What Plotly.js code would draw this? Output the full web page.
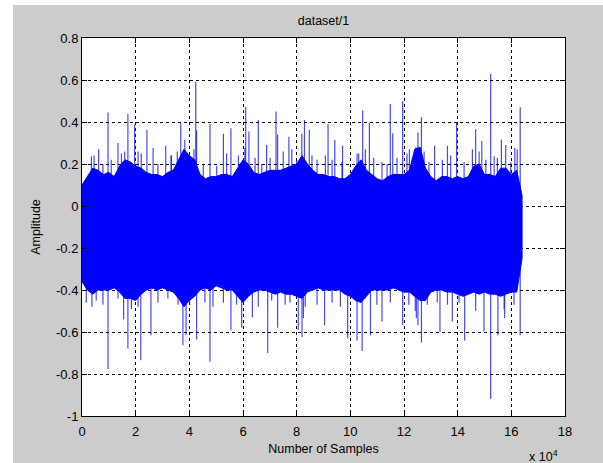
<!DOCTYPE html>
<html>
<head>
<meta charset="utf-8">
<script src="https://cdn.plot.ly/plotly-3.0.1.min.js"></script>
<style>
  html, body { margin: 0; padding: 0; background: #ffffff; width: 603px; height: 463px; overflow: hidden; }
  #chart { position: absolute; left: 13px; top: 5px; width: 590px; height: 458px; }
</style>
</head>
<body>
<div id="chart"></div>
<script>
// Ragged dense envelope of the signal (sample index, upper and lower edge)
const envX = [0,2000,4000,6000,8000,10000,12000,14000,16000,18000,20000,22000,24000,26000,28000,30000,32000,34000,36000,38000,40000,42000,44000,46000,48000,50000,52000,54000,56000,58000,60000,62000,64000,66000,68000,70000,72000,74000,76000,78000,80000,82000,84000,86000,88000,90000,92000,94000,96000,98000,100000,102000,104000,106000,108000,110000,112000,114000,116000,118000,120000,122000,124000,126000,128000,130000,132000,134000,136000,138000,140000,142000,144000,146000,148000,150000,152000,154000,156000,158000,160000,162000,164000];
const envTop = [0.10,0.14,0.18,0.17,0.15,0.16,0.14,0.19,0.22,0.21,0.19,0.18,0.16,0.15,0.15,0.14,0.16,0.17,0.22,0.27,0.24,0.22,0.15,0.13,0.14,0.14,0.15,0.15,0.14,0.18,0.22,0.20,0.16,0.15,0.16,0.17,0.17,0.17,0.18,0.19,0.20,0.24,0.20,0.17,0.15,0.15,0.14,0.14,0.13,0.13,0.15,0.19,0.22,0.17,0.15,0.13,0.12,0.14,0.15,0.15,0.15,0.17,0.27,0.28,0.18,0.14,0.12,0.14,0.14,0.13,0.14,0.13,0.14,0.19,0.20,0.15,0.15,0.14,0.18,0.18,0.15,0.17,0.05];
const envBottom = [-0.36,-0.40,-0.42,-0.40,-0.40,-0.40,-0.39,-0.41,-0.44,-0.44,-0.45,-0.42,-0.40,-0.39,-0.40,-0.39,-0.40,-0.41,-0.44,-0.48,-0.45,-0.43,-0.40,-0.39,-0.40,-0.38,-0.39,-0.40,-0.40,-0.43,-0.46,-0.43,-0.41,-0.40,-0.40,-0.41,-0.42,-0.41,-0.42,-0.42,-0.43,-0.44,-0.41,-0.40,-0.39,-0.40,-0.40,-0.40,-0.40,-0.42,-0.43,-0.45,-0.46,-0.43,-0.40,-0.40,-0.40,-0.40,-0.39,-0.40,-0.41,-0.41,-0.43,-0.45,-0.45,-0.41,-0.40,-0.40,-0.41,-0.41,-0.42,-0.43,-0.42,-0.41,-0.42,-0.41,-0.42,-0.42,-0.43,-0.42,-0.41,-0.41,-0.25];

// Upward spikes (sample index, peak amplitude)
const spikeUpX = [3500,4500,6200,7800,9700,10900,13400,14700,15900,17100,19600,20900,22100,24200,26500,28300,31200,33200,33300,35500,36800,38300,39500,41700,42400,42700,45200,47700,50200,52700,53900,55500,58300,60700,61000,62200,64500,65700,67000,68800,70100,72300,72900,75000,77100,78200,80000,81900,82900,84700,85700,87600,90700,91700,93200,94200,96900,97100,102500,103100,104600,105600,107100,108700,111800,113700,114900,115800,117400,119500,121100,122000,123600,124400,125200,126500,127500,129300,131400,134300,136200,137400,139600,142400,145500,146700,148000,149000,150500,152300,153600,154800,156300,157900,159800,161300,162200,163300];
const spikeUpY = [0.237,0.24,0.27,0.20,0.445,0.22,0.30,0.25,0.26,0.439,0.387,0.26,0.25,0.363,0.276,0.20,0.287,0.24,0.24,0.26,0.398,0.316,0.20,0.27,0.592,0.36,0.20,0.39,0.19,0.344,0.25,0.37,0.24,0.276,0.47,0.355,0.23,0.41,0.20,0.29,0.23,0.45,0.34,0.26,0.33,0.27,0.22,0.344,0.41,0.363,0.24,0.22,0.24,0.39,0.22,0.316,0.21,0.287,0.25,0.25,0.455,0.27,0.395,0.23,0.21,0.20,0.486,0.347,0.23,0.50,0.25,0.27,0.22,0.28,0.35,0.423,0.26,0.21,0.287,0.22,0.287,0.24,0.40,0.21,0.27,0.366,0.26,0.31,0.22,0.628,0.237,0.23,0.316,0.29,0.21,0.276,0.27,0.47];

// Downward spikes (sample index, trough amplitude)
const spikeDownX = [1600,3700,5300,7800,9700,13400,15500,17100,18400,20900,21900,25700,28300,32000,35800,37600,38800,40100,42700,45800,47700,48800,52700,55500,57600,59500,63500,65700,69200,70700,72900,75700,77500,80600,82000,82500,83200,87600,90400,93200,96300,99000,102500,104400,107500,109900,111800,114900,119500,121800,124200,124600,125200,126500,128700,132400,133400,136200,138000,140500,142600,146700,149800,152300,155000,157300,157500,161000,163300];
const spikeDownY = [-0.46,-0.48,-0.45,-0.47,-0.777,-0.44,-0.54,-0.679,-0.49,-0.48,-0.734,-0.616,-0.46,-0.44,-0.47,-0.663,-0.616,-0.47,-0.636,-0.46,-0.742,-0.48,-0.46,-0.59,-0.47,-0.58,-0.53,-0.48,-0.70,-0.45,-0.58,-0.47,-0.46,-0.59,-0.624,-0.535,-0.48,-0.47,-0.568,-0.46,-0.48,-0.63,-0.64,-0.69,-0.616,-0.47,-0.55,-0.46,-0.568,-0.47,-0.50,-0.535,-0.568,-0.65,-0.47,-0.46,-0.60,-0.47,-0.55,-0.46,-0.64,-0.50,-0.597,-0.919,-0.616,-0.49,-0.535,-0.47,-0.616];

const xTickVals = [0,20000,40000,60000,80000,100000,120000,140000,160000,180000];
const xTickText = ['0','2','4','6','8','10','12','14','16','18'];
const yTickVals = [-1,-0.8,-0.6,-0.4,-0.2,0,0.2,0.4,0.6,0.8];
const yTickText = ['-1','-0.8','-0.6','-0.4','-0.2','0','0.2','0.4','0.6','0.8'];

// Build traces from the arrays
const bandX = envX.concat(envX.slice().reverse());
const bandY = envTop.concat(envBottom.slice().reverse());

function segs(xs, ys, base) {
  const sx = [], sy = [];
  for (let i = 0; i < xs.length; i++) {
    sx.push(xs[i], xs[i], null);
    sy.push(base, ys[i], null);
  }
  return {sx, sy};
}
const up = segs(spikeUpX, spikeUpY, 0);
const dn = segs(spikeDownX, spikeDownY, -0.2);

const traces = [
  {x: bandX, y: bandY, type: 'scatter', mode: 'lines', fill: 'toself',
   fillcolor: '#0000ff', line: {color: '#0000ff', width: 1}, hoverinfo: 'skip'},
  {x: up.sx, y: up.sy, type: 'scatter', mode: 'lines',
   line: {color: 'rgba(0,0,255,0.72)', width: 1.2}, connectgaps: false, hoverinfo: 'skip'},
  {x: dn.sx, y: dn.sy, type: 'scatter', mode: 'lines',
   line: {color: 'rgba(0,0,255,0.72)', width: 1.2}, connectgaps: false, hoverinfo: 'skip'}
];

const fontFam = 'Liberation Sans, Arial, sans-serif';
const axisCommon = {
  showline: true, linecolor: '#000', linewidth: 1, mirror: 'ticks',
  ticks: 'inside', ticklen: 5, tickcolor: '#000', tickwidth: 1,
  showgrid: true, gridcolor: '#000', gridwidth: 1, griddash: '3px,3px',
  zeroline: false, tickfont: {family: fontFam, size: 13, color: '#000'}
};

const layout = {
  width: 590, height: 458,
  margin: {l: 69, r: 38, t: 33, b: 47, pad: 0},
  paper_bgcolor: '#cccccc', plot_bgcolor: '#ffffff',
  showlegend: false,
  title: {text: 'dataset/1', font: {family: fontFam, size: 12.5, color: '#000'},
          x: 0.5, xanchor: 'center', xref: 'paper', y: 0.965, yanchor: 'middle'},
  xaxis: Object.assign({}, axisCommon, {
    range: [0, 180000], tickmode: 'array', tickvals: xTickVals, ticktext: xTickText,
    ticklabelstandoff: 3,
    title: {text: 'Number of Samples', font: {family: fontFam, size: 12.5, color: '#000'}, standoff: 6}
  }),
  yaxis: Object.assign({}, axisCommon, {
    range: [-1, 0.8], tickmode: 'array', tickvals: yTickVals, ticktext: yTickText,
    title: {text: 'Amplitude', font: {family: fontFam, size: 12.5, color: '#000'}, standoff: 12}
  }),
  annotations: [{
    text: 'x 10<sup>4</sup>', xref: 'paper', yref: 'paper', x: 0.99, y: -0.08,
    xanchor: 'right', yanchor: 'top', showarrow: false,
    font: {family: fontFam, size: 12.5, color: '#000'}
  }]
};

Plotly.newPlot('chart', traces, layout, {staticPlot: true, displayModeBar: false});
</script>
</body>
</html>
